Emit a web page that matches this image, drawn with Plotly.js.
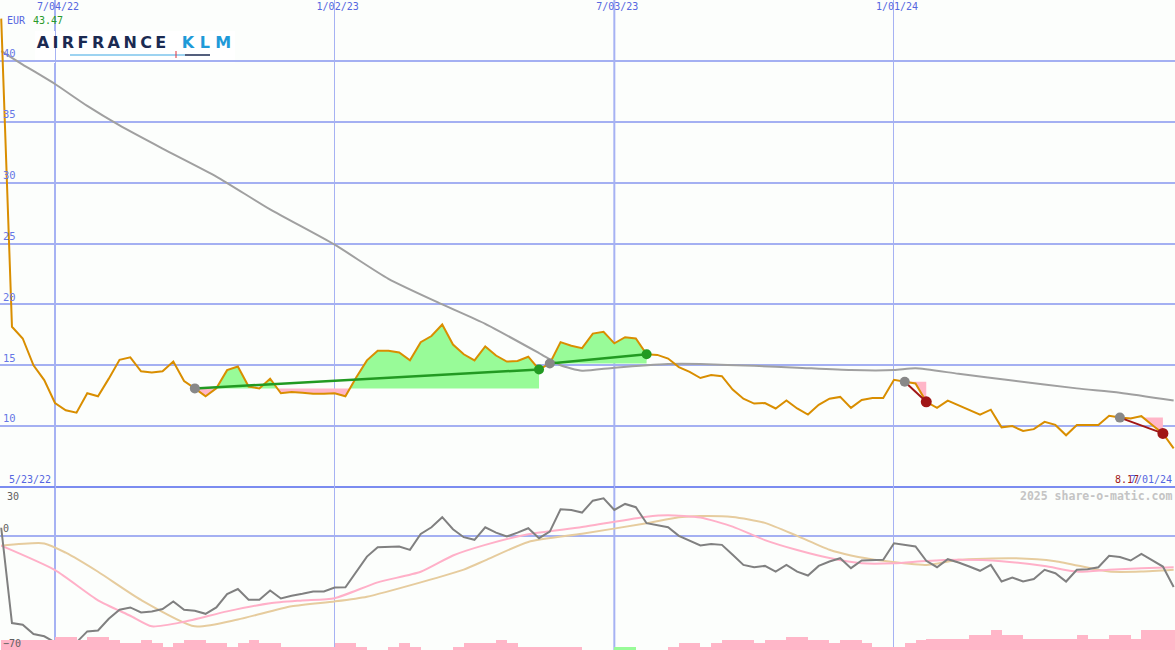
<!DOCTYPE html>
<html><head><meta charset="utf-8">
<script src="https://cdn.plot.ly/plotly-3.0.1.min.js"></script>
<style>html,body{margin:0;padding:0;background:#fcfefc;}#chart{width:1175px;height:650px;}</style>
</head><body><div id="chart"></div>
<script>
// Weekly dates (Mondays)
const dates = ["2022-05-30","2022-06-06","2022-06-13","2022-06-20","2022-06-27","2022-07-04","2022-07-11","2022-07-18","2022-07-25","2022-08-01",
"2022-08-08","2022-08-15","2022-08-22","2022-08-29","2022-09-05","2022-09-12","2022-09-19","2022-09-26","2022-10-03","2022-10-10",
"2022-10-17","2022-10-24","2022-10-31","2022-11-07","2022-11-14","2022-11-21","2022-11-28","2022-12-05","2022-12-12","2022-12-19",
"2022-12-26","2023-01-02","2023-01-09","2023-01-16","2023-01-23","2023-01-30","2023-02-06","2023-02-13","2023-02-20","2023-02-27",
"2023-03-06","2023-03-13","2023-03-20","2023-03-27","2023-04-03","2023-04-10","2023-04-17","2023-04-24","2023-05-01","2023-05-08",
"2023-05-15","2023-05-22","2023-05-29","2023-06-05","2023-06-12","2023-06-19","2023-06-26","2023-07-03","2023-07-10","2023-07-17",
"2023-07-24","2023-07-31","2023-08-07","2023-08-14","2023-08-21","2023-08-28","2023-09-04","2023-09-11","2023-09-18","2023-09-25",
"2023-10-02","2023-10-09","2023-10-16","2023-10-23","2023-10-30","2023-11-06","2023-11-13","2023-11-20","2023-11-27","2023-12-04",
"2023-12-11","2023-12-18","2023-12-25","2024-01-01","2024-01-08","2024-01-15","2024-01-22","2024-01-29","2024-02-05","2024-02-12",
"2024-02-19","2024-02-26","2024-03-04","2024-03-11","2024-03-18","2024-03-25","2024-04-01","2024-04-08","2024-04-15","2024-04-22",
"2024-04-29","2024-05-06","2024-05-13","2024-05-20","2024-05-27","2024-06-03","2024-06-10","2024-06-17","2024-06-24","2024-07-01"];

// Weekly close, EUR
const price = [43.47,18.16,17.2,15.0,13.78,11.9,11.3,11.1,12.7,12.45,
13.9,15.45,15.65,14.5,14.4,14.5,15.3,13.7,13.1,12.45,
13.1,14.6,14.9,13.25,13.1,13.9,12.7,12.8,12.75,12.65,
12.65,12.7,12.45,14.0,15.4,16.2,16.2,16.05,15.4,16.9,
17.4,18.35,16.7,15.9,15.4,16.55,15.8,15.3,15.35,15.7,
14.65,15.15,16.9,16.6,16.4,17.6,17.75,16.8,17.3,17.2,
15.9,15.85,15.55,14.85,14.45,13.95,14.2,14.1,13.0,12.25,
11.85,11.9,11.45,12.1,11.45,10.95,11.75,12.25,12.4,11.5,
12.15,12.3,12.3,13.8,13.65,13.5,12.0,11.5,12.1,11.7,
11.3,10.95,11.35,9.9,10.0,9.6,9.75,10.35,10.1,9.25,
10.1,10.1,10.1,10.85,10.7,10.62,10.82,10.1,9.4,8.17];

// Long moving average (grey, price panel), read at these weeks
const maWeeks  = [0,2,5,8,11,15,20,25,31,36,41,45,50,52,54,57,62,65,70,74,79,83,85,89,94,100,104,109];
const maValues = [40.8,39.7,38.1,36.3,34.7,32.8,30.5,27.8,24.9,22.1,20.0,18.4,16.0,15.0,14.55,14.8,15.1,15.1,14.95,14.8,14.6,14.6,14.75,14.3,13.75,13.1,12.75,12.1];

// Oscillator (lower panel, dark grey), weekly
const osc = [5,-53.5,-54.5,-60.2,-61.6,-65.3,-65.3,-65.3,-58.6,-58,
-50.8,-45.3,-43.9,-47,-46.4,-44.9,-40.2,-45.3,-45.9,-47.8,
-43.9,-35.7,-32.6,-39.2,-39.2,-33.5,-38.4,-36.7,-35.5,-34.1,
-34.1,-31.7,-31.5,-22,-12.7,-6.9,-6.5,-6.5,-8.6,1.2,
5.3,11.5,4.1,-0.8,-2.4,5.3,2.0,-0.4,2.0,4.7,
-1.4,2.6,16.3,15.9,14.3,21.6,23.1,15.9,19.6,17.6,
7.8,6.5,5.3,0,-2.9,-5.9,-4.9,-5.5,-11.6,-17.8,
-19.2,-18.4,-21.9,-17.8,-21.9,-24.3,-18.4,-15.7,-13.7,-19.8,
-15.1,-14.7,-14.7,-4.5,-5.5,-6.5,-15.3,-19.2,-14.3,-16.3,
-18.8,-21.4,-17.8,-28,-25.5,-28,-26.5,-20.8,-22.9,-28,
-20.8,-20.4,-19.2,-12.2,-13,-15.1,-11,-14.7,-18.8,-31.4];

// Signal lines (lower panel)
const pinkWeeks  = [0,5,9,12,14,17,21,25,28,31,35,39,42,45,49,54,60,62,65,68,71,74,77,80,83,86,89,93,97,100,103,106,109];
const pinkValues = [-6,-21,-39.5,-49,-55.5,-52.7,-46.3,-41.3,-39.6,-38.2,-28.5,-22,-12,-5.5,1,5.4,11.8,12.7,11.3,5.7,-2.6,-8.7,-13.6,-16.8,-16.8,-15.4,-14.7,-15.5,-18.5,-21.9,-20.8,-19.8,-19.2];
const tanWeeks   = [0,4,6,9,13,18,22,27,31,34,39,43,45,49,54,60,63,65,68,71,74,77,79,82,86,89,94,98,103,106,109];
const tanValues  = [-6,-4.6,-10.3,-22,-39.3,-55.5,-51.3,-43.2,-40.2,-37.3,-28.5,-20.7,-15,-3.7,1.3,7.8,11.4,12.2,11.6,8,0,-8.5,-12,-15.3,-17.8,-14.7,-13.7,-15.5,-21.9,-21.9,-20.8];

// Volume (relative units) and weeks shown in green
const volume = [6,6,6,6,6,8,8,6,8,8,
6,4,4,6,4,2,4,6,6,4,
4,2,4,6,4,4,2,2,2,2,
2,4,4,2,0,0,2,4,2,0,
0,0,2,4,4,4,6,4,2,2,
2,2,2,2,0,0,0,2,2,0,
0,0,2,4,4,2,4,6,6,6,
4,6,6,8,8,6,6,4,6,6,
4,2,2,2,4,6,7,7,7,7,
9,9,12,9,9,7,7,7,7,7,
9,7,7,9,9,7,12,12,12,12];
const greenVolumeWeeks = [57,58];

// Trend signals: start week, end week
const signalStart = [18,51,84,104];
const signalEnd   = [50,60,86,108];

// Axis ticks
const tickDates = ["2022-07-04","2023-01-02","2023-07-03","2024-01-01"];
const tickText  = ["7/04/22","1/02/23","7/03/23","1/01/24"];
const majorGridDates = ["2022-07-04","2023-07-03"];
const priceTicks = [10,15,20,25,30,35,40];

const W = 1175, H = 650;
const split = 163/650;
const px = x => x/W, py = y => 1 - y/H;
const ms = d => Date.parse(d);
const mono = 'DejaVu Sans Mono';
const blue = '#5566e0';

const traces = [];

// Volume bars
traces.push({type:'bar', x:dates, y:volume, xaxis:'x', yaxis:'y3', offset:0, width:7*86400000,
  marker:{color:volume.map((v,i)=>greenVolumeWeeks.includes(i)?'#98fb98':'#ffb6c8'), line:{width:0}}, hoverinfo:'skip'});

// Fills relative to signal start level
function clipped(s, e, above){
  const base = price[s]; const xs=[], ys=[];
  for(let i=s;i<=e;i++){
    if(i>s){
      const a=price[i-1]-base, b=price[i]-base;
      if(a*b<0){ const f=a/(a-b); xs.push(ms(dates[i-1])+f*(ms(dates[i])-ms(dates[i-1]))); ys.push(base); }
    }
    xs.push(ms(dates[i])); ys.push(above?Math.max(price[i],base):Math.min(price[i],base));
  }
  return {xs, ys, base};
}
signalStart.forEach((s,k)=>{
  const e = signalEnd[k];
  [true,false].forEach(above=>{
    const c = clipped(s,e,above);
    traces.push({type:'scatter', mode:'lines', x:[c.xs[0], c.xs[c.xs.length-1]], y:[c.base,c.base], line:{width:0}, hoverinfo:'skip', xaxis:'x', yaxis:'y'});
    traces.push({type:'scatter', mode:'lines', x:c.xs, y:c.ys, line:{width:0}, fill:'tonexty', fillcolor: above?'#98fb98':'#ffb6c8', hoverinfo:'skip', xaxis:'x', yaxis:'y'});
  });
});

// Long MA
traces.push({type:'scatter', mode:'lines', x:maWeeks.map(i=>dates[i]), y:maValues, line:{color:'#a0a0a0', width:2, shape:'spline', smoothing:0.6}, xaxis:'x', yaxis:'y'});
// Price
traces.push({type:'scatter', mode:'lines', x:dates, y:price, line:{color:'#d98e00', width:2}, xaxis:'x', yaxis:'y'});
// Trend lines and markers
signalStart.forEach((s,k)=>{
  const e = signalEnd[k];
  const up = price[e] > price[s];
  const col = up ? '#229a22' : '#a01616';
  traces.push({type:'scatter', mode:'lines', x:[dates[s],dates[e]], y:[price[s],price[e]], line:{color:col, width:up?2.5:2}, xaxis:'x', yaxis:'y'});
  traces.push({type:'scatter', mode:'markers', x:[dates[s]], y:[price[s]], marker:{color:'#888888', size:10}, xaxis:'x', yaxis:'y'});
  traces.push({type:'scatter', mode:'markers', x:[dates[e]], y:[price[e]], marker:{color:col, size:up?10:11}, xaxis:'x', yaxis:'y'});
});

// Lower panel lines
traces.push({type:'scatter', mode:'lines', x:tanWeeks.map(i=>dates[i]), y:tanValues, line:{color:'#e6cc9e', width:2, shape:'spline', smoothing:0.6}, xaxis:'x', yaxis:'y2'});
traces.push({type:'scatter', mode:'lines', x:pinkWeeks.map(i=>dates[i]), y:pinkValues, line:{color:'#ffb0c8', width:2, shape:'spline', smoothing:0.6}, xaxis:'x', yaxis:'y2'});
traces.push({type:'scatter', mode:'lines', x:dates, y:osc, line:{color:'#808080', width:2}, xaxis:'x', yaxis:'y2'});

const shapes = [];
majorGridDates.forEach(d=>shapes.push({type:'line', xref:'x', yref:'paper', x0:d, x1:d, y0:0, y1:1, line:{color:'#a6b2f3', width:2}, layer:'between'}));
shapes.push({type:'line', xref:'paper', yref:'paper', x0:0, x1:1, y0:split, y1:split, line:{color:'#7b8cf0', width:2}, layer:'between'});
// logo background
shapes.push({type:'rect', xref:'paper', yref:'paper', x0:px(35), x1:px(235), y0:py(63), y1:py(31), fillcolor:'#ffffff', line:{width:0}, layer:'between'});
shapes.push({type:'line', xref:'paper', yref:'paper', x0:px(70), x1:px(185), y0:py(55), y1:py(55), line:{color:'#7cc4ec', width:1.5}});
shapes.push({type:'line', xref:'paper', yref:'paper', x0:px(185), x1:px(210), y0:py(55), y1:py(55), line:{color:'#1b2a52', width:1.5}});
shapes.push({type:'line', xref:'paper', yref:'paper', x0:px(176), x1:px(176), y0:py(51), y1:py(58), line:{color:'#e0303c', width:1}});

const ann = (x,y,text,color,xanchor,size,extra)=>Object.assign({xref:'paper', yref:'paper', x:px(x), y:py(y), text, showarrow:false, xanchor, yanchor:'middle', font:{family:mono, size:size||10, color}}, extra||{});
const annotations = [
  ann(5,21,'EUR',blue,'left'),
  ann(31,21,'43.47','#2a9a2a','left'),
  ann(7,479,'5/23/22',blue,'left'),
  ann(1141,479,'8.17','#a01818','right'),
  ann(1174,479,'7/01/24',blue,'right'),
  ann(1174,496,'2025 share-o-matic.com','#c4c4c4','right',11.5,{font:{family:mono,size:11.5,color:'#c4c4c4',weight:700}}),
  ann(5,496,'30','#606060','left'),
  {xref:'paper', yref:'paper', x:px(103), y:py(42.5), text:'AIRFRANCE', showarrow:false, xanchor:'center', yanchor:'middle', font:{family:'DejaVu Sans', size:16, color:'#1b2a52', weight:700}},
  {xref:'paper', yref:'paper', x:px(209), y:py(42.5), text:'KLM', showarrow:false, xanchor:'center', yanchor:'middle', font:{family:'DejaVu Sans', size:16, color:'#1f9ad8', weight:700}}
];

const layout = {
  width:W, height:H, margin:{l:0,r:0,t:0,b:0},
  paper_bgcolor:'#fcfefc', plot_bgcolor:'#fcfefc', showlegend:false, bargap:0,
  xaxis:{type:'date', range:['2022-05-29 05:00','2024-07-01 21:00'], side:'top', anchor:'y',
    tickmode:'array', tickvals:tickDates, ticktext:tickText, ticklabelposition:'inside', ticks:'',
    ticklabelshift:3, showgrid:true, gridcolor:'#a6b2f3', gridwidth:1, zeroline:false, showline:false,
    tickfont:{family:mono, size:10, color:blue}, fixedrange:true},
  yaxis:{domain:[split,1], range:[5,45], anchor:'x', tickmode:'array', tickvals:priceTicks,
    ticklabelposition:'inside top', ticks:'', gridcolor:'#a4b0f2', gridwidth:2, zeroline:false, showline:false,
    tickfont:{family:mono, size:10.5, color:'#6677e6'}, fixedrange:true},
  yaxis2:{domain:[0,split], range:[-70,30], anchor:'x', tickmode:'array', tickvals:[0,-70],
    ticklabelposition:'inside top', ticks:'', gridcolor:'#a4b0f2', gridwidth:2, zeroline:false, showline:false,
    tickfont:{family:mono, size:10, color:'#606060'}, fixedrange:true},
  yaxis3:{overlaying:'y2', range:[0,100], visible:false, anchor:'x', fixedrange:true},
  shapes, annotations
};

Plotly.newPlot('chart', traces, layout, {staticPlot:true, displayModeBar:false}).then(()=>{
  document.querySelectorAll('.annotation-text').forEach(t=>{
    if(t.textContent==='AIRFRANCE') t.style.letterSpacing='3.4px';
    if(t.textContent==='KLM') t.style.letterSpacing='5.5px';
  });
});
</script></body></html>
